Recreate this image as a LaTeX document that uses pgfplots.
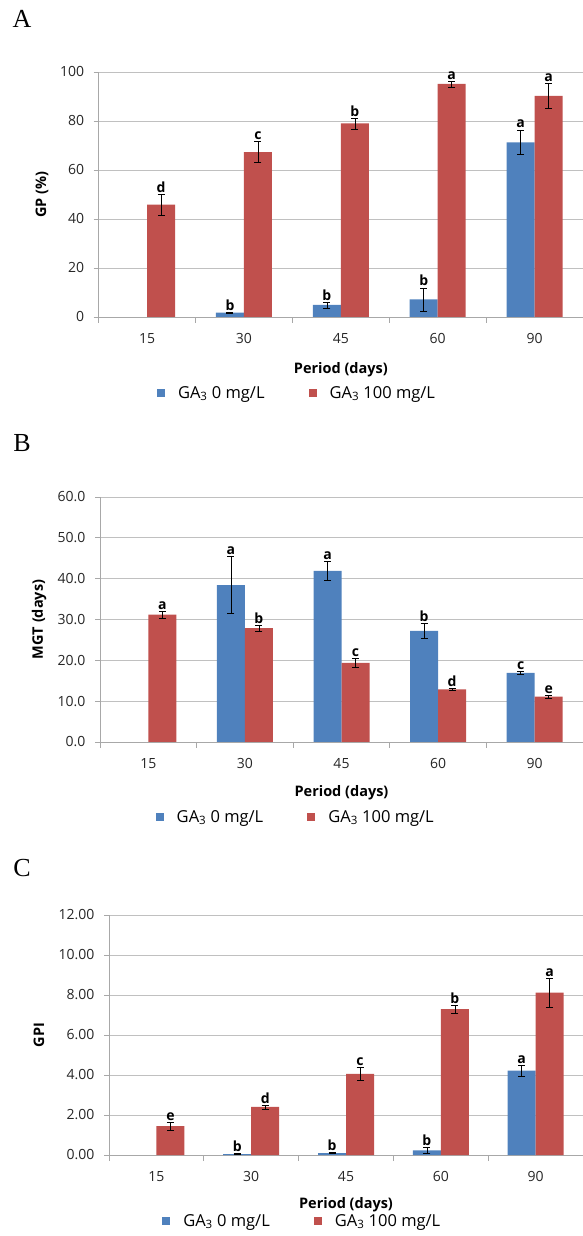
\documentclass[border=0pt]{standalone}
\usepackage{fontspec}
\setmainfont{Open Sans}
\newfontfamily\serif{Liberation Serif}
\usepackage{pgfplots}
\pgfplotsset{compat=1.18}
\usepackage{pgfplotstable}

\definecolor{gablue}{HTML}{4F81BD}
\definecolor{gared}{HTML}{C0504D}
\definecolor{gridgray}{HTML}{C0C0C0}
\definecolor{axgray}{HTML}{A8A8A8}

% GP (%)
\pgfplotstableread{
x y e l
1 1.8 0.3 b
2 4.9 1.2 b
3 7.2 4.7 b
4 71.3 5.1 a
}\gpzero
\pgfplotstableread{
x y e l
0 45.9 4.2 d
1 67.3 4.3 c
2 79.0 2.2 b
3 95.1 1.2 a
4 90.2 5.2 a
}\gphund

% MGT (days)
\pgfplotstableread{
x y e l
1 38.4 7.0 a
2 41.9 2.4 a
3 27.2 1.85 b
4 16.9 0.35 c
}\mgtzero
\pgfplotstableread{
x y e l
0 31.2 0.8 a
1 27.9 0.75 b
2 19.4 1.1 c
3 12.9 0.3 d
4 11.1 0.35 e
}\mgthund

% GPI
\pgfplotstableread{
x y e l
1 0.05 0.02 b
2 0.10 0.03 b
3 0.23 0.15 b
4 4.22 0.27 a
}\gpizero
\pgfplotstableread{
x y e l
0 1.44 0.18 e
1 2.40 0.10 d
2 4.05 0.33 c
3 7.29 0.20 b
4 8.12 0.73 a
}\gpihund

\pgfplotsset{
  panel/.style={
    scale only axis, clip=false,
    xmin=-0.5, xmax=4.5, ymin=0,
    xtick={0,...,4}, xticklabels={15,30,45,60,90},
    minor xtick={-0.5,0.5,...,4.5},
    axis x line*=bottom, axis y line*=left,
    axis line style={draw=axgray, line width=0.8pt, -},
    tick align=outside,
    major x tick style={draw=none},
    minor x tick style={draw=axgray, line width=0.8pt},
    y tick style={draw=axgray, line width=0.8pt},
    major tick length=5pt, minor tick length=6pt,
    ymajorgrids, grid style={draw=gridgray, line width=0.8pt},
    tick label style={font=\fontsize{14}{14}\selectfont, text=black!85},
    xticklabel style={yshift=-8pt},
    yticklabel style={xshift=-6pt},
    /pgf/number format/assume math mode=true,
    label style={font=\bfseries\fontsize{14.5}{14.5}\selectfont},
    legend columns=2,
    legend style={draw=none, fill=none, anchor=west, inner sep=0pt,
      font=\fontsize{16.5}{16.5}\selectfont,
      /tikz/every odd column/.append style={column sep=11pt},
      /tikz/every even column/.append style={column sep=42pt}},
  },
  bars/.style 2 args={ybar, bar width=28pt, bar shift=#2, draw=none, fill=#1,
    legend image code/.code={\fill[##1] (0pt,-4pt) rectangle (8pt,4pt);}},
  errs/.style={forget plot, draw=none, no markers,
    error bars/.cd, y dir=both, y explicit,
    error bar style={draw=black, line width=0.6pt},
    error mark options={rotate=90, mark size=3.5pt, draw=black, line width=0.6pt}},
  lbl/.style={only marks, mark=none, forget plot,
    nodes near coords={\pgfplotspointmeta}, point meta=explicit symbolic,
    every node near coord/.append style={anchor=south, inner sep=1.5pt,
      font=\bfseries\fontsize{14}{14}\selectfont, text=black}},
}

\begin{document}
\begin{tikzpicture}
\useasboundingbox (0pt,0pt) rectangle (583pt,1236pt);

\node[font=\serif\fontsize{26}{26}\selectfont] at (22pt,1217pt) {A};
\node[font=\serif\fontsize{26}{26}\selectfont] at (22pt,793pt) {B};
\node[font=\serif\fontsize{26}{26}\selectfont] at (22pt,368pt) {C};

% ---- A
\def\sh{0.1445}
\begin{axis}[panel, at={(98.7pt,919pt)}, anchor=south west,
  width=484.3pt, height=245pt, ymax=100, ytick={0,20,...,100},
  ylabel={GP (\%)}, xlabel={Period (days)},
  ylabel style={at={(axis description cs:-0.117,0.5)}, anchor=center},
  xlabel style={at={(axis description cs:0.5,-0.216)}, anchor=center},
  legend style={at={(axis description cs:0.12,-0.31)}}]
\addplot[bars={gablue}{-14pt}] table[x=x, y=y] {\gpzero};
\addplot[bars={gared}{14pt}] table[x=x, y=y] {\gphund};
\addplot[errs] table[x expr=\thisrow{x}-\sh, y=y, y error=e] {\gpzero};
\addplot[errs] table[x expr=\thisrow{x}+\sh, y=y, y error=e] {\gphund};
\addplot[lbl] table[x expr=\thisrow{x}-\sh, y expr=\thisrow{y}+\thisrow{e}, meta=l] {\gpzero};
\addplot[lbl] table[x expr=\thisrow{x}+\sh, y expr=\thisrow{y}+\thisrow{e}, meta=l] {\gphund};
\legend{GA\textsubscript{3} 0 mg/L, GA\textsubscript{3} 100 mg/L}
\end{axis}

% ---- B
\def\sh{0.1449}
\begin{axis}[panel, at={(100pt,494pt)}, anchor=south west,
  width=483pt, height=245pt, ymax=60, ytick={0,10,...,60},
  yticklabel style={/pgf/number format/.cd, fixed, fixed zerofill, precision=1},
  ylabel={MGT (days)}, xlabel={Period (days)},
  ylabel style={at={(axis description cs:-0.126,0.5)}, anchor=center},
  xlabel style={at={(axis description cs:0.5,-0.208)}, anchor=center},
  legend style={at={(axis description cs:0.115,-0.306)}}]
\addplot[bars={gablue}{-14pt}] table[x=x, y=y] {\mgtzero};
\addplot[bars={gared}{14pt}] table[x=x, y=y] {\mgthund};
\addplot[errs] table[x expr=\thisrow{x}-\sh, y=y, y error=e] {\mgtzero};
\addplot[errs] table[x expr=\thisrow{x}+\sh, y=y, y error=e] {\mgthund};
\addplot[lbl] table[x expr=\thisrow{x}-\sh, y expr=\thisrow{y}+\thisrow{e}, meta=l] {\mgtzero};
\addplot[lbl] table[x expr=\thisrow{x}+\sh, y expr=\thisrow{y}+\thisrow{e}, meta=l] {\mgthund};
\legend{GA\textsubscript{3} 0 mg/L, GA\textsubscript{3} 100 mg/L}
\end{axis}

% ---- C
\def\sh{0.1477}
\begin{axis}[panel, at={(109pt,81pt)}, anchor=south west,
  width=474pt, height=240pt, ymax=12, ytick={0,2,...,12},
  yticklabel style={/pgf/number format/.cd, fixed, fixed zerofill, precision=2},
  ylabel={GPI}, xlabel={Period (days)},
  ylabel style={at={(axis description cs:-0.148,0.5)}, anchor=center},
  xlabel style={at={(axis description cs:0.5,-0.208)}, anchor=center},
  legend style={at={(axis description cs:0.112,-0.275)}}]
\addplot[bars={gablue}{-14pt}] table[x=x, y=y] {\gpizero};
\addplot[bars={gared}{14pt}] table[x=x, y=y] {\gpihund};
\addplot[errs] table[x expr=\thisrow{x}-\sh, y=y, y error=e] {\gpizero};
\addplot[errs] table[x expr=\thisrow{x}+\sh, y=y, y error=e] {\gpihund};
\addplot[lbl] table[x expr=\thisrow{x}-\sh, y expr=\thisrow{y}+\thisrow{e}, meta=l] {\gpizero};
\addplot[lbl] table[x expr=\thisrow{x}+\sh, y expr=\thisrow{y}+\thisrow{e}, meta=l] {\gpihund};
\legend{GA\textsubscript{3} 0 mg/L, GA\textsubscript{3} 100 mg/L}
\end{axis}
\end{tikzpicture}
\end{document}
